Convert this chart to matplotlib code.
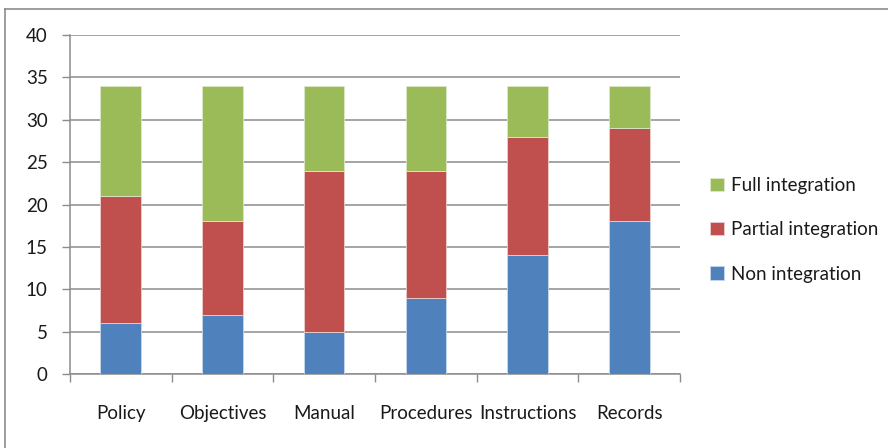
import matplotlib.pyplot as plt
import numpy as np

# Integration level per document type (counts, stacked)
categories = ['Policy', 'Objectives', 'Manual', 'Procedures', 'Instructions', 'Records']
non_integration = [6, 7, 5, 9, 14, 18]
partial_integration = [15, 11, 19, 15, 14, 11]
full_integration = [13, 16, 10, 10, 6, 5]

plt.rcParams['font.family'] = ['Lato', 'DejaVu Sans']

fig = plt.figure(figsize=(8.88, 4.48), dpi=100)
ax = fig.add_axes([0.0788, 0.165, 0.687, 0.757])

x = np.arange(len(categories))
width = 0.4
blue, red, green = '#4F81BD', '#C0504D', '#9BBB59'

b1 = ax.bar(x, non_integration, width, color=blue, edgecolor='#c8d6ea', linewidth=0.6, zorder=3)
bottom2 = np.array(non_integration)
b2 = ax.bar(x, partial_integration, width, bottom=bottom2, color=red, edgecolor='#ead0cf', linewidth=0.6, zorder=3)
bottom3 = bottom2 + np.array(partial_integration)
b3 = ax.bar(x, full_integration, width, bottom=bottom3, color=green, edgecolor='#dbe8c9', linewidth=0.6, zorder=3)

ax.set_xlim(-0.5, len(categories) - 0.5)
ax.set_ylim(0, 40)
ax.set_yticks(range(0, 41, 5))
ax.yaxis.grid(True, color='#8c8c8c', linewidth=1.1, zorder=0)

# category labels centred, tick marks on the boundaries
ax.set_xticks(x)
ax.set_xticklabels(categories)
ax.set_xticks(np.arange(-0.5, len(categories)), minor=True)
ax.tick_params(axis='x', which='major', length=0, pad=22, labelsize=13.5, labelcolor='#1a1a1a')
ax.tick_params(axis='x', which='minor', length=6, width=1, color='#8c8c8c', direction='out')
ax.tick_params(axis='y', length=6, width=1, color='#8c8c8c', direction='out', pad=10,
               labelsize=13.5, labelcolor='#1a1a1a')

for side in ['top', 'right']:
    ax.spines[side].set_visible(False)
for side in ['left', 'bottom']:
    ax.spines[side].set_color('#8c8c8c')
    ax.spines[side].set_linewidth(1.1)

leg = fig.legend([b3, b2, b1], ['Full integration', 'Partial integration', 'Non integration'],
                 loc='center left', bbox_to_anchor=(0.800, 0.487), frameon=False,
                 fontsize=13.5, labelspacing=1.45, handlelength=0.7, handleheight=0.7,
                 handletextpad=0.4, borderaxespad=0, borderpad=0)
for t in leg.get_texts():
    t.set_color('#1a1a1a')

# chart area border
fig.add_artist(plt.Line2D([5 / 888, 5 / 888], [0, 1 - 9 / 448], transform=fig.transFigure,
                          color='#8c8c8c', linewidth=1.2))
fig.add_artist(plt.Line2D([5 / 888, 1], [1 - 9 / 448, 1 - 9 / 448], transform=fig.transFigure,
                          color='#8c8c8c', linewidth=1.2))

fig.savefig('out.png', dpi=100)
